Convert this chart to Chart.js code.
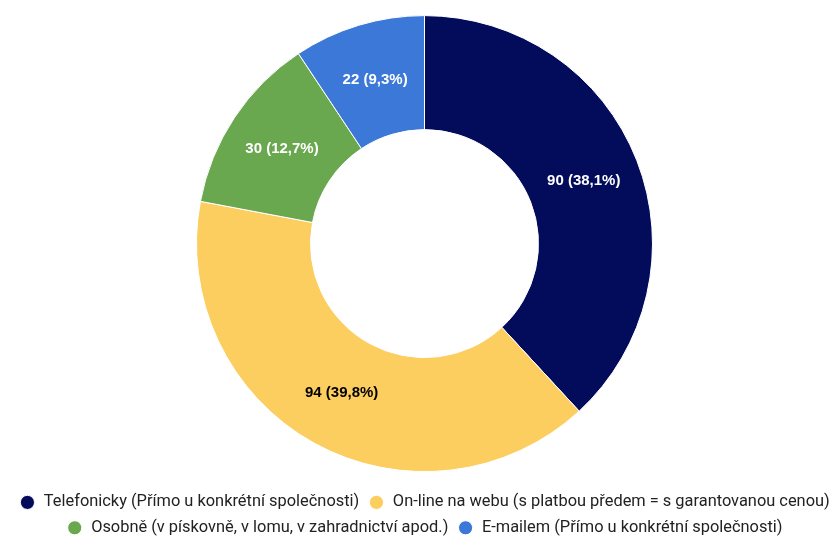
<!DOCTYPE html>
<html>
<head>
<meta charset="utf-8">
<script src="https://cdn.jsdelivr.net/npm/chart.js@4/dist/chart.umd.min.js"></script>
<style>
  html, body { margin: 0; padding: 0; background: #fff; overflow: hidden; }
  #wrap { width: 849px; height: 546px; }
</style>
</head>
<body>
<div id="wrap"><canvas id="chart"></canvas></div>
<script>
const labels = [
    "Telefonicky (Přímo u konkrétní společnosti)",
    "On-line na webu (s platbou předem = s garantovanou cenou)",
    "Osobně (v pískovně, v lomu, v zahradnictví apod.)",
    "E-mailem (Přímo u konkrétní společnosti)"
];
const counts = [90, 94, 30, 22];
const colors = ["#020c5a", "#fccd5f", "#6aa84f", "#3c78d8"];
const labelColors = ["#ffffff", "#000000", "#ffffff", "#ffffff"];

// draws "value (pct%)" in the middle of each slice
const sliceLabels = {
    id: "sliceLabels",
    afterDatasetsDraw(chart) {
        const ctx = chart.ctx;
        const total = counts.reduce((a, b) => a + b, 0);
        const meta = chart.getDatasetMeta(0);
        ctx.save();
        ctx.font = "bold 15px 'Liberation Sans', Arial, sans-serif";
        ctx.textAlign = "center";
        ctx.textBaseline = "middle";
        meta.data.forEach((arc, i) => {
            const p = arc.tooltipPosition();
            const pct = (counts[i] / total * 100).toFixed(1).replace(".", ",");
            ctx.fillStyle = labelColors[i];
            ctx.fillText(counts[i] + " (" + pct + "%)", p.x, p.y);
        });
        ctx.restore();
    }
};

new Chart(document.getElementById("chart").getContext("2d"), {
    type: "doughnut",
    data: {
        labels: labels,
        datasets: [{
            data: counts,
            backgroundColor: colors,
            borderColor: "#ffffff",
            borderWidth: 1
        }]
    },
    options: {
        responsive: true,
        maintainAspectRatio: false,
        animation: false,
        radius: 228,
        cutout: "50%",
        layout: { padding: { top: 2, bottom: 0 } },
        plugins: {
            tooltip: { enabled: false },
            legend: {
                position: "bottom",
                labels: {
                    usePointStyle: true,
                    pointStyle: "circle",
                    boxWidth: 24,
                    boxHeight: 10,
                    padding: 9,
                    color: "#222222",
                    font: { family: "Roboto", size: 16.4 }
                }
            }
        }
    },
    plugins: [sliceLabels]
});
</script>
</body>
</html>
